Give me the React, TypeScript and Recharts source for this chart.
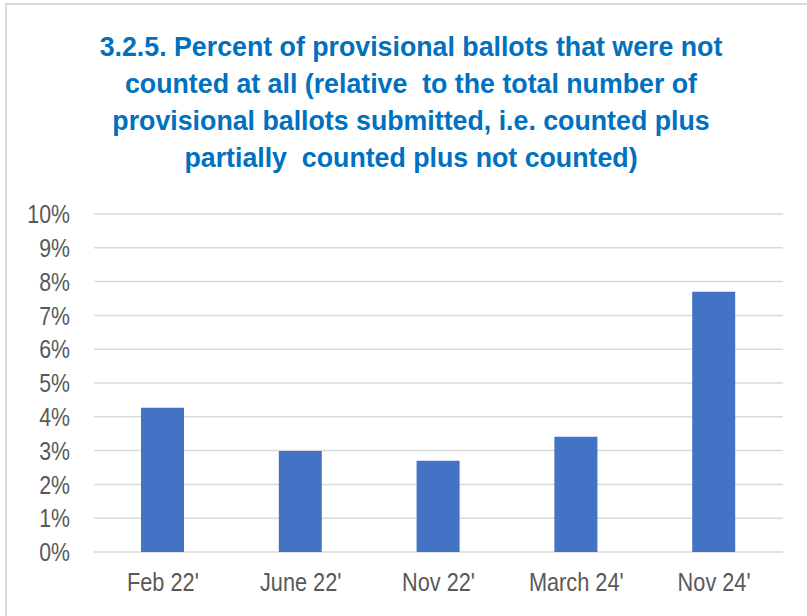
import { Bar, BarChart, CartesianGrid, XAxis, YAxis } from "recharts";

const periods = ["Feb 22'", "June 22'", "Nov 22'", "March 24'", "Nov 24'"];
const notCountedPct = [4.27, 2.99, 2.7, 3.41, 7.7];
const yTicks = [0, 1, 2, 3, 4, 5, 6, 7, 8, 9, 10];
const titleLines = [
  "3.2.5. Percent of provisional ballots that were not",
  "counted at all (relative  to the total number of",
  "provisional ballots submitted, i.e. counted plus",
  "partially  counted plus not counted)",
];

const FONT = '"Liberation Sans", Arial, sans-serif';
const NARROW = 0.82;

// no narrow font installed, so squeeze the glyphs horizontally
function YTick(props: any) {
  const { x, y, payload } = props;
  return (
    <g transform={`translate(${x},${y})`}>
      <text
        transform={`scale(${NARROW},1)`}
        textAnchor="end"
        dy="0.355em"
        fill="#595959"
        fontSize={26}
        fontFamily={FONT}
      >
        {`${payload.value}%`}
      </text>
    </g>
  );
}

function XTick(props: any) {
  const { x, y, payload } = props;
  return (
    <g transform={`translate(${x},${y})`}>
      <text
        transform={`scale(${NARROW},1)`}
        textAnchor="middle"
        dy="0.71em"
        fill="#595959"
        fontSize={26.5}
        fontFamily={FONT}
      >
        {payload.value}
      </text>
    </g>
  );
}

export default function App() {
  const data = periods.map((p, i) => ({ period: p, value: notCountedPct[i] }));
  return (
    <div
      style={{
        position: "absolute",
        left: 0,
        top: 0,
        width: 807,
        height: 616,
        overflow: "hidden",
        background: "#fff",
        fontFamily: FONT,
      }}
    >
      <div
        style={{
          position: "absolute",
          left: 5,
          top: 3,
          width: 900,
          height: 700,
          borderTop: "2px solid #d9d9d9",
          borderLeft: "2px solid #d9d9d9",
        }}
      />
      <div
        style={{
          position: "absolute",
          left: 0,
          top: 28,
          width: 822,
          textAlign: "center",
          color: "#0070C0",
          fontWeight: "bold",
          fontSize: 28,
          lineHeight: "37px",
          whiteSpace: "pre",
          transform: "scaleX(0.955)",
          transformOrigin: "411px 0",
        }}
      >
        {titleLines.map((l) => (
          <div key={l}>{l}</div>
        ))}
      </div>
      <div style={{ position: "absolute", left: 0, top: 0 }}>
        <BarChart
          width={807}
          height={616}
          data={data}
          margin={{ top: 214, right: 24, bottom: 24, left: 0 }}
        >
          <CartesianGrid vertical={false} stroke="#d9d9d9" strokeWidth={1.5} />
          <XAxis
            dataKey="period"
            axisLine={false}
            tickLine={false}
            tickSize={0}
            tickMargin={20}
            height={40}
            interval={0}
            tick={<XTick />}
          />
          <YAxis
            domain={[0, 10]}
            ticks={yTicks}
            width={94}
            axisLine={false}
            tickLine={false}
            tickSize={0}
            tickMargin={24}
            tick={<YTick />}
          />
          <Bar dataKey="value" fill="#4472C4" barSize={43} isAnimationActive={false} />
        </BarChart>
      </div>
    </div>
  );
}
